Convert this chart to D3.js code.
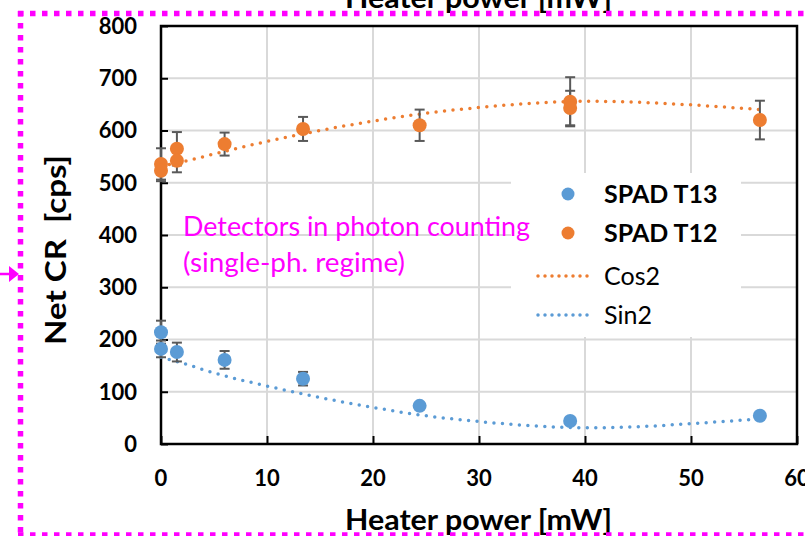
<!DOCTYPE html>
<html>
<head>
<meta charset="utf-8">
<script src="https://cdn.jsdelivr.net/npm/d3@7"></script>
<style>
  body { margin: 0; background: #fff; }
  svg { display: block; }
</style>
</head>
<body>
<div id="chart"></div>
<script>
// measured values
const t13X = [0, 0, 1.5, 6, 13.4, 24.4, 38.6, 56.5];
const t13Y = [214, 182, 176, 161, 125, 73, 44, 54];
const t13Err = [22, 16, 18, 17, 13, 5, 5, 5];

const t12X = [0, 0, 1.5, 1.5, 6, 13.4, 24.4, 38.6, 38.6, 56.5];
const t12Y = [536, 523, 565, 542, 574, 603, 610, 655, 643, 620];
const t12Err = [30, 20, 32, 22, 22, 23, 30, 47, 33, 37];

// fitted curves
const fitX = [0, 2, 5, 10, 15, 20, 25, 30, 35, 40, 45, 50, 56.5];
const cos2Y = [532, 540, 555, 579, 600, 618, 633, 644, 652, 656, 654, 649, 640];
const sin2Y = [166, 155, 136, 111, 89, 70, 54, 43, 35, 31, 33, 39, 48];

const xTicks = [0, 10, 20, 30, 40, 50, 60];
const yTicks = [0, 100, 200, 300, 400, 500, 600, 700, 800];

const width = 805;
const height = 536;
const blue = "#5B9BD5";
const orange = "#ED7D31";
const magenta = "#FF00FF";
const font = "Lato, 'Open Sans', sans-serif";

const svg = d3.select("#chart")
    .append("svg")
    .attr("width", width)
    .attr("height", height)
    .style("font-family", font);

const x = d3.scaleLinear().domain([0, 60]).range([161, 797]);
const y = d3.scaleLinear().domain([0, 800]).range([444, 26]);

// Gridlines
svg.append("g")
    .selectAll("line.v")
    .data(xTicks.slice(1, -1))
    .enter().append("line")
    .attr("x1", d => x(d)).attr("x2", d => x(d))
    .attr("y1", y(800)).attr("y2", y(0))
    .attr("stroke", "#D9D9D9").attr("stroke-width", 2);

svg.append("g")
    .selectAll("line.h")
    .data(yTicks.slice(1, -1))
    .enter().append("line")
    .attr("x1", x(0)).attr("x2", x(60))
    .attr("y1", d => y(d)).attr("y2", d => y(d))
    .attr("stroke", "#D9D9D9").attr("stroke-width", 2);

// Axes (ticks inside)
const xAxis = svg.append("g")
    .attr("transform", `translate(0,${y(0)})`)
    .call(d3.axisTop(x).tickValues(xTicks).tickSize(8).tickFormat(""));
const yAxis = svg.append("g")
    .attr("transform", `translate(${x(0)},0)`)
    .call(d3.axisRight(y).tickValues(yTicks).tickSize(7).tickFormat(""));
[xAxis, yAxis].forEach(a => {
    a.selectAll("path").remove();
    a.selectAll("line").attr("stroke", "#000").attr("stroke-width", 2);
});

// Tick labels
svg.append("g")
    .selectAll("text")
    .data(yTicks)
    .enter().append("text")
    .attr("x", 137)
    .attr("y", d => y(d))
    .attr("dy", "0.36em")
    .attr("text-anchor", "end")
    .attr("font-size", "22px")
    .attr("font-weight", "bold")
    .text(d => d);

svg.append("g")
    .selectAll("text")
    .data(xTicks)
    .enter().append("text")
    .attr("x", d => x(d))
    .attr("y", 486)
    .attr("text-anchor", "middle")
    .attr("font-size", "22px")
    .attr("font-weight", "bold")
    .text(d => d);

// Plot frame
svg.append("rect")
    .attr("x", x(0)).attr("y", y(800))
    .attr("width", x(60) - x(0)).attr("height", y(0) - y(800))
    .attr("fill", "none").attr("stroke", "#000").attr("stroke-width", 2.5);

// Fitted dotted lines
const line = d3.line()
    .x(d => x(d[0]))
    .y(d => y(d[1]))
    .curve(d3.curveMonotoneX);

[[cos2Y, orange], [sin2Y, blue]].forEach(([vals, color]) => {
    svg.append("path")
        .datum(fitX.map((v, i) => [v, vals[i]]))
        .attr("d", line)
        .attr("fill", "none")
        .attr("stroke", color)
        .attr("stroke-width", 3.5)
        .attr("stroke-linecap", "round")
        .attr("stroke-dasharray", "0 8.5");
});

// Error bars + markers
function drawSeries(xs, ys, errs, color) {
    const pts = xs.map((v, i) => ({x: v, y: ys[i], e: errs[i]}));
    const g = svg.append("g");
    const eb = g.selectAll("g.err")
        .data(pts)
        .enter().append("g")
        .attr("stroke", "#595959")
        .attr("stroke-width", 2);
    eb.append("line")
        .attr("x1", d => x(d.x)).attr("x2", d => x(d.x))
        .attr("y1", d => y(d.y - d.e)).attr("y2", d => y(d.y + d.e));
    eb.append("line")
        .attr("x1", d => x(d.x) - 5).attr("x2", d => x(d.x) + 5)
        .attr("y1", d => y(d.y + d.e)).attr("y2", d => y(d.y + d.e));
    eb.append("line")
        .attr("x1", d => x(d.x) - 5).attr("x2", d => x(d.x) + 5)
        .attr("y1", d => y(d.y - d.e)).attr("y2", d => y(d.y - d.e));
    g.selectAll("circle")
        .data(pts)
        .enter().append("circle")
        .attr("cx", d => x(d.x))
        .attr("cy", d => y(d.y))
        .attr("r", 7)
        .attr("fill", color);
}
drawSeries(t13X, t13Y, t13Err, blue);
drawSeries(t12X, t12Y, t12Err, orange);

// Legend
svg.append("rect")
    .attr("x", 511).attr("y", 173)
    .attr("width", 230).attr("height", 164)
    .attr("fill", "#fff");

const legendItems = [
    {label: "SPAD T13", color: blue, type: "dot", bold: true, cy: 194},
    {label: "SPAD T12", color: orange, type: "dot", bold: true, cy: 233},
    {label: "Cos2", color: orange, type: "line", bold: false, cy: 276},
    {label: "Sin2", color: blue, type: "line", bold: false, cy: 315}
];
const leg = svg.append("g")
    .selectAll("g")
    .data(legendItems)
    .enter().append("g");
leg.filter(d => d.type === "dot").append("circle")
    .attr("cx", 568).attr("cy", d => d.cy).attr("r", 6.5)
    .attr("fill", d => d.color);
leg.filter(d => d.type === "line").append("line")
    .attr("x1", 538).attr("x2", 594)
    .attr("y1", d => d.cy).attr("y2", d => d.cy)
    .attr("stroke", d => d.color)
    .attr("stroke-width", 3.5)
    .attr("stroke-linecap", "round")
    .attr("stroke-dasharray", "0 7");
leg.append("text")
    .attr("x", 604)
    .attr("y", d => d.cy)
    .attr("dy", "0.36em")
    .attr("font-size", "25px")
    .attr("font-weight", d => d.bold ? "bold" : "normal")
    .attr("fill", "#000")
    .text(d => d.label);

// Annotation
const note = svg.append("g")
    .attr("fill", magenta)
    .attr("font-size", "26px");
note.append("text").attr("x", 183).attr("y", 236)
    .attr("textLength", 347).attr("lengthAdjust", "spacingAndGlyphs")
    .text("Detectors in photon counting");
note.append("text").attr("x", 183).attr("y", 272)
    .attr("textLength", 222).attr("lengthAdjust", "spacingAndGlyphs")
    .text("(single-ph. regime)");

// Axis titles
[530, 8].forEach(ty => {
    svg.append("text")
        .attr("x", 345)
        .attr("y", ty)
        .attr("font-size", "29px")
        .attr("font-weight", "bold")
        .attr("textLength", 267)
        .attr("lengthAdjust", "spacingAndGlyphs")
        .text("Heater power [mW]");
});

svg.append("text")
    .attr("transform", "translate(66,345) rotate(-90)")
    .attr("font-size", "28px")
    .attr("font-weight", "bold")
    .attr("textLength", 190)
    .attr("lengthAdjust", "spacingAndGlyphs")
    .attr("xml:space", "preserve")
    .text("Net CR  [cps]");

// Magenta dotted frame and arrow
const frame = svg.append("g")
    .attr("stroke", magenta)
    .attr("stroke-width", 5.5)
    .attr("stroke-dasharray", "5.5 6.5")
    .attr("fill", "none");
frame.append("line").attr("x1", 18).attr("x2", width).attr("y1", 13.5).attr("y2", 13.5);
frame.append("line").attr("x1", 20.5).attr("x2", 20.5).attr("y1", 11).attr("y2", height);
frame.append("line").attr("x1", 18).attr("x2", width).attr("y1", 535).attr("y2", 535);

svg.append("line")
    .attr("x1", 0).attr("x2", 12)
    .attr("y1", 274).attr("y2", 274)
    .attr("stroke", magenta).attr("stroke-width", 2.5);
svg.append("path")
    .attr("d", "M9,266L19,274L9,282Z")
    .attr("fill", magenta);
</script>
</body>
</html>
